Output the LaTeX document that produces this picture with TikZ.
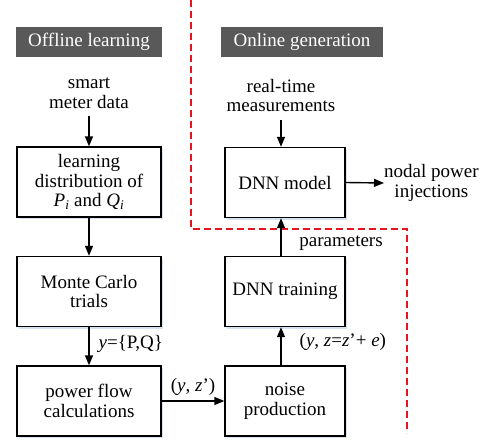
\documentclass[tikz,border=0pt]{standalone}
\usepackage{fontspec}
\setmainfont{Liberation Serif}
\usetikzlibrary{arrows.meta,shadows}
\definecolor{labgray}{RGB}{89,89,89}
\definecolor{shadowcol}{RGB}{205,218,236}
\definecolor{redline}{RGB}{230,20,30}
\begin{document}
\begin{tikzpicture}[x=1pt,y=-1pt,
  font=\fontsize{19}{19.5}\selectfont,
  stepbox/.style={draw=black, line width=1.4pt, fill=white, minimum width=144pt, minimum height=70pt, inner sep=0pt, align=center,
    drop shadow={shadow xshift=1.5pt, shadow yshift=-2pt, fill=shadowcol, opacity=0.8}},
  rbox/.style={stepbox, minimum width=120pt},
  headbox/.style={fill=labgray, text=white, minimum height=30pt, inner sep=0pt, align=center},
  plain/.style={inner sep=0pt, align=center},
  arr/.style={line width=1.4pt, -{Triangle[length=10pt,width=8pt]}},
  reddash/.style={draw=redline, line width=1.5pt, dash pattern=on 7pt off 4pt}
]
\useasboundingbox (0,0) rectangle (489,441);

% separator
\coordinate (r1) at (191,0);
\coordinate (r2) at (191,229);
\coordinate (r3) at (407,229);
\coordinate (r4) at (407,433);
\draw[reddash] (r1) -- (r2) -- (r3) -- (r4);

% headers
\node[headbox, minimum width=146pt] (off) at (89,42) {Offline learning};
\node[headbox, minimum width=162pt] (on) at (302,42) {Online generation};

% left column
\node[plain] (smd) at (89,93) {smart\\meter data};
\node[stepbox] (learn) at (89,182) {learning\\distribution of\\{\itshape P}\textsubscript{\itshape i} and {\itshape Q}\textsubscript{\itshape i}};
\node[stepbox] (mc) at (89,291.5) {Monte Carlo\\trials};
\node[stepbox] (pf) at (89,401) {power flow\\calculations};

% right column
\node[plain] (rt) at (281,95.5) {real-time\\measurements};
\node[rbox] (model) at (285,182.5) {DNN model};
\node[rbox] (train) at (285,291.5) {DNN training};
\node[rbox] (noise) at (285,401) {noise\\production};
\node[plain, anchor=west] (out) at (384,183) {nodal power\\injections};

% connectors
\draw[arr, shorten <=8pt] (smd.south) -- (learn.north);
\draw[arr] (learn.south) -- (mc.north);
\draw[arr] (mc.south) -- node[plain, right=9pt, pos=0.45] (lab1) {\textit{y}=\{P,Q\}} (pf.north);
\draw[arr] (pf.east) -- node[plain, above=5pt, pos=0.5] (lab2) {(\textit{y}, \textit{z}’)} (noise.west);
\draw[arr] ([xshift=-4pt]noise.north) -- node[plain, right=18pt, pos=0.6] (lab3) {(\textit{y}, \textit{z}=\textit{z}’+ \textit{e})} ([xshift=-4pt]train.south);
\draw[arr] ([xshift=-4pt]train.north) -- ([xshift=-4pt]model.south);
\node[plain] (lab4) at (341,243) {parameters};
\draw[arr, shorten <=8pt] (rt.south) -- (rt.south |- model.north);
\draw[arr] (model.east) -- (out.west);
\end{tikzpicture}
\end{document}
